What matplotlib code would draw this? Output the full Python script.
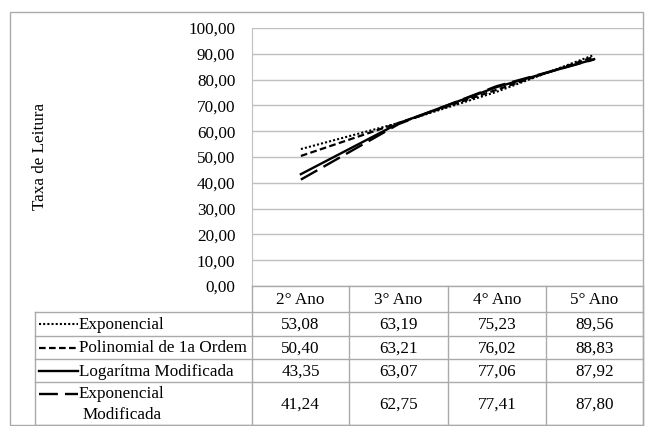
import matplotlib
matplotlib.use("Agg")
import matplotlib.pyplot as plt
from matplotlib.lines import Line2D
from matplotlib.patches import Rectangle

categories = ["2° Ano", "3° Ano", "4° Ano", "5° Ano"]
series_names = ["Exponencial", "Polinomial de 1a Ordem", "Logarítma Modificada", "Exponencial\nModificada"]
exponencial = [53.08, 63.19, 75.23, 89.56]
polinomial = [50.40, 63.21, 76.02, 88.83]
logaritma_mod = [43.35, 63.07, 77.06, 87.92]
exponencial_mod = [41.24, 62.75, 77.41, 87.80]
series_values = [exponencial, polinomial, logaritma_mod, exponencial_mod]
yticks = [0, 10, 20, 30, 40, 50, 60, 70, 80, 90, 100]

styles = [
    dict(linestyle=(0, (1, 1)), linewidth=1.5),
    dict(linestyle=(0, (3, 1.5)), linewidth=1.6),
    dict(linestyle="-", linewidth=1.7),
    dict(linestyle=(0, (8, 3)), linewidth=1.7),
]

plt.rcParams["font.family"] = ["Liberation Serif", "DejaVu Serif"]
FS = 12.3
W, H = 654, 426
fig = plt.figure(figsize=(W / 100, H / 100), dpi=100)

def fx(px):
    return px / W

def fy(py):
    return 1 - py / H

# outer frame
fig.patches.append(Rectangle((fx(10), fy(425)), fx(643) - fx(10), fy(12) - fy(425),
                             transform=fig.transFigure, fill=False, edgecolor="#aaaaaa", linewidth=1))

# plot axes
L, R, T, B = 252, 643, 28, 286
ax = fig.add_axes([fx(L), fy(B), fx(R) - fx(L), fy(T) - fy(B)])
x = list(range(len(categories)))
for vals, st in zip(series_values, styles):
    ax.plot(x, vals, color="black", **st)
ax.set_xlim(-0.5, len(categories) - 0.5)
ax.set_ylim(0, 100)
ax.set_yticks(yticks)
ax.set_yticklabels([f"{v:.2f}".replace(".", ",") for v in yticks], fontsize=FS)
ax.set_xticks([])
ax.grid(axis="y", color="#bfbfbf", linewidth=1)
ax.set_axisbelow(True)
for s in ["top", "right", "bottom"]:
    ax.spines[s].set_visible(False)
ax.spines["left"].set_color("#bfbfbf")
ax.tick_params(axis="y", length=0, pad=12)
fig.text(fx(40), fy(156), "Taxa de Leitura", rotation=90, ha="center", va="center", fontsize=FS)

# table axes in pixel coordinates
tab = fig.add_axes([0, 0, 1, 1], facecolor="none")
tab.set_xlim(0, W)
tab.set_ylim(H, 0)
tab.axis("off")
gc = "#aaaaaa"
col_edges = [252, 349, 448, 546, 643]
row_edges = [312, 336, 359, 382, 425]
header_top = 286
left = 35
tab.plot([col_edges[0], col_edges[-1]], [header_top, header_top], color=gc, lw=1)
for cx in col_edges:
    tab.plot([cx, cx], [header_top, row_edges[-1]], color=gc, lw=1)
tab.plot([left, left], [row_edges[0], row_edges[-1]], color=gc, lw=1)
for ry in row_edges:
    tab.plot([left, col_edges[-1]], [ry, ry], color=gc, lw=1)
for i, c in enumerate(categories):
    tab.text((col_edges[i] + col_edges[i + 1]) / 2, (header_top + row_edges[0]) / 2 + 1, c,
             ha="center", va="center", fontsize=FS)
for r, (name, vals, st) in enumerate(zip(series_names, series_values, styles)):
    yc = (row_edges[r] + row_edges[r + 1]) / 2 + 1
    key_y = yc - 1 if r < 3 else row_edges[r] + 12
    tab.add_line(Line2D([39, 78], [key_y, key_y], color="black", **st))
    tab.text(79, yc, name, ha="left", va="center", fontsize=FS, multialignment="center",
             linespacing=1.35)
    for i, v in enumerate(vals):
        tab.text((col_edges[i] + col_edges[i + 1]) / 2, yc, f"{v:.2f}".replace(".", ","),
                 ha="center", va="center", fontsize=FS)

fig.savefig("out.png", dpi=100)
